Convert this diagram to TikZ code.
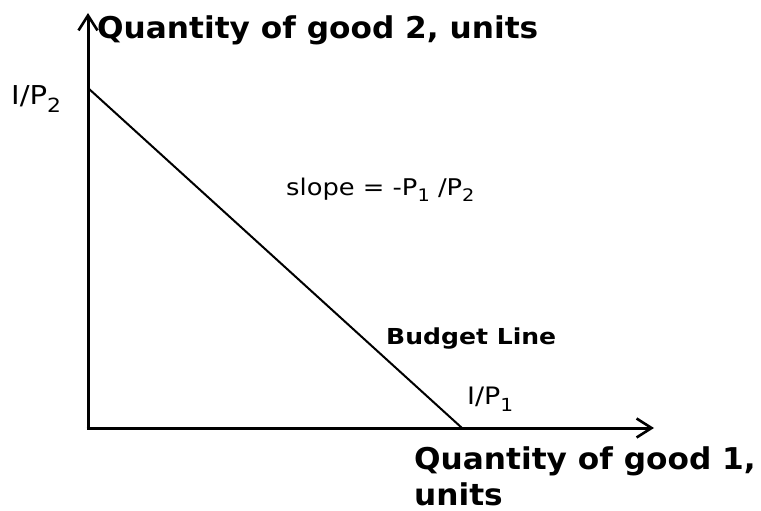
\documentclass[tikz,border=0pt]{standalone}
\usepackage{fontspec}
\setmainfont{DejaVu Sans}
\newfontfamily\regf[FakeStretch=1.12]{DejaVu Sans}
\newfontfamily\axf[FakeStretch=1.04]{DejaVu Sans Bold}
\newfontfamily\blf[FakeStretch=1.14]{DejaVu Sans Bold}
\usetikzlibrary{arrows.meta}
\tikzset{
  axis/.style={line width=3pt,-{Straight Barb[length=15pt,width=19pt,line width=2.6pt]}},
  budget/.style={line width=2pt},
  lbl/.style={anchor=base west,inner sep=0pt},
  blbl/.style={anchor=base west,inner sep=0pt,font=\fontsize{30}{38}\axf},
}
\newcommand{\sbs}[1]{\raisebox{-0.3em}{\scalebox{0.75}{#1}}}
\begin{document}
\begin{tikzpicture}[x=1pt,y=-1pt]
\useasboundingbox (0,0) rectangle (761,511);
\coordinate (O) at (88,428);
\coordinate (Ytop) at (88,13);
\coordinate (Xend) at (654,428);
\coordinate (A) at (88,88);
\coordinate (B) at (462,428);
\draw[axis] ([yshift=-1.5pt]O) -- (Ytop);
\draw[axis] ([xshift=-1.5pt]O) -- (Xend);
\draw[budget] (A) -- (B);
\node[blbl] (ylab) at (97,39) {Quantity of good 2, units};
\node[blbl] (xlab) at (414,469) {Quantity of good 1,};
\node[blbl] (xlab2) at (414,505) {units};
\node[lbl,font=\fontsize{26}{30}\regf] (ip2) at (11,105) {I/P\sbs{2}};
\node[lbl,font=\fontsize{24}{28}\regf] (ip1) at (467,404) {I/P\sbs{1}};
\node[lbl,font=\fontsize{23}{28}\regf] (slope) at (286,195) {slope = -P\sbs{1} /P\sbs{2}};
\node[lbl,font=\fontsize{22}{26}\blf] (bl) at (386,344) {Budget Line};
\end{tikzpicture}
\end{document}
